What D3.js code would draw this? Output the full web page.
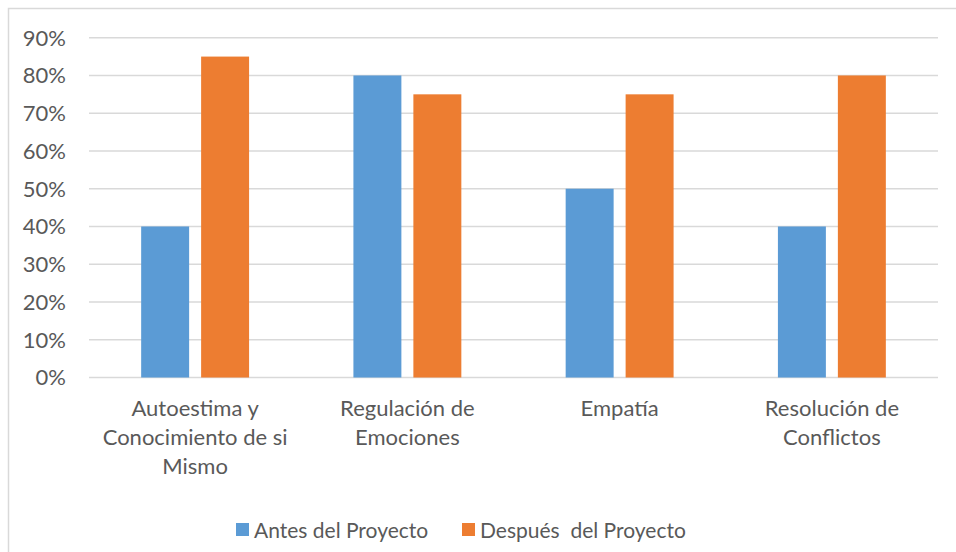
<!DOCTYPE html>
<html>
<head>
<meta charset="utf-8">
<script src="https://cdn.jsdelivr.net/npm/d3@7"></script>
<style>
  body { margin: 0; background: #fff; }
  text { font-family: Lato, "Open Sans", sans-serif; fill: #595959; }
</style>
</head>
<body>
<div id="chart"></div>
<script>
const categories = [
  ["Autoestima y", "Conocimiento de si", "Mismo"],
  ["Regulación de", "Emociones"],
  ["Empatía"],
  ["Resolución de", "Conflictos"]
];
const seriesNames = ["Antes del Proyecto", "Después  del Proyecto"];
const antes = [0.40, 0.80, 0.50, 0.40];
const despues = [0.85, 0.75, 0.75, 0.80];
const yTicks = [0, 0.1, 0.2, 0.3, 0.4, 0.5, 0.6, 0.7, 0.8, 0.9];
const colors = ["#5b9bd5", "#ed7d31"];

(function chart() {
  const width = 956, height = 552;
  const margin = { top: 37.7, right: 18, bottom: 174.5, left: 89 };

  const svg = d3.select("#chart")
    .append("svg")
    .attr("width", width)
    .attr("height", height);

  // outer chart border (right and bottom fall outside the picture)
  svg.append("path")
    .attr("d", `M8.5,${height + 2}V8.5H${width + 2}`)
    .attr("fill", "none")
    .attr("stroke", "#d9d9d9")
    .attr("stroke-width", 1.5);

  const x = d3.scaleBand()
    .domain(d3.range(categories.length))
    .range([margin.left, width - margin.right]);

  const inner = d3.scaleBand()
    .domain([0, 1])
    .range([0, x.bandwidth()])
    .paddingInner(0.2)
    .paddingOuter(0.87);

  const y = d3.scaleLinear()
    .domain([0, 0.9])
    .range([height - margin.bottom, margin.top]);

  // gridlines
  svg.append("g")
    .selectAll("line")
    .data(yTicks)
    .join("line")
    .attr("x1", margin.left)
    .attr("x2", width - margin.right)
    .attr("y1", d => y(d))
    .attr("y2", d => y(d))
    .attr("stroke", "#d9d9d9")
    .attr("stroke-width", 1.5);

  // y tick labels
  svg.append("g")
    .selectAll("text")
    .data(yTicks)
    .join("text")
    .attr("x", 66)
    .attr("y", d => y(d))
    .attr("dy", "0.36em")
    .attr("text-anchor", "end")
    .style("font-size", "22px")
    .text(d3.format(".0%"));

  const rows = categories.map((c, i) => [antes[i], despues[i]]);

  svg.append("g")
    .selectAll("g")
    .data(rows)
    .join("g")
    .attr("transform", (d, i) => `translate(${x(i)},0)`)
    .selectAll("rect")
    .data(d => d)
    .join("rect")
    .attr("x", (d, j) => inner(j))
    .attr("width", inner.bandwidth())
    .attr("y", d => y(d))
    .attr("height", d => y(0) - y(d))
    .attr("fill", (d, j) => colors[j]);

  // category labels
  svg.append("g")
    .selectAll("text")
    .data(categories)
    .join("text")
    .attr("x", (d, i) => x(i) + x.bandwidth() / 2)
    .attr("y", 416)
    .attr("text-anchor", "middle")
    .style("font-size", "22px")
    .selectAll("tspan")
    .data(d => d)
    .join("tspan")
    .attr("x", function () { return this.parentNode.getAttribute("x"); })
    .attr("dy", (d, k) => k === 0 ? 0 : 29)
    .text(d => d);

  // legend
  const legendX = [236, 462];
  const legend = svg.append("g")
    .selectAll("g")
    .data(seriesNames)
    .join("g")
    .attr("transform", (d, i) => `translate(${legendX[i]},530)`);

  legend.append("rect")
    .attr("y", -7)
    .attr("width", 13)
    .attr("height", 13)
    .attr("fill", (d, i) => colors[i]);

  legend.append("text")
    .attr("x", 18)
    .attr("dy", "0.36em")
    .style("font-size", "21px")
    .style("white-space", "pre")
    .text(d => d);
})();
</script>
</body>
</html>
